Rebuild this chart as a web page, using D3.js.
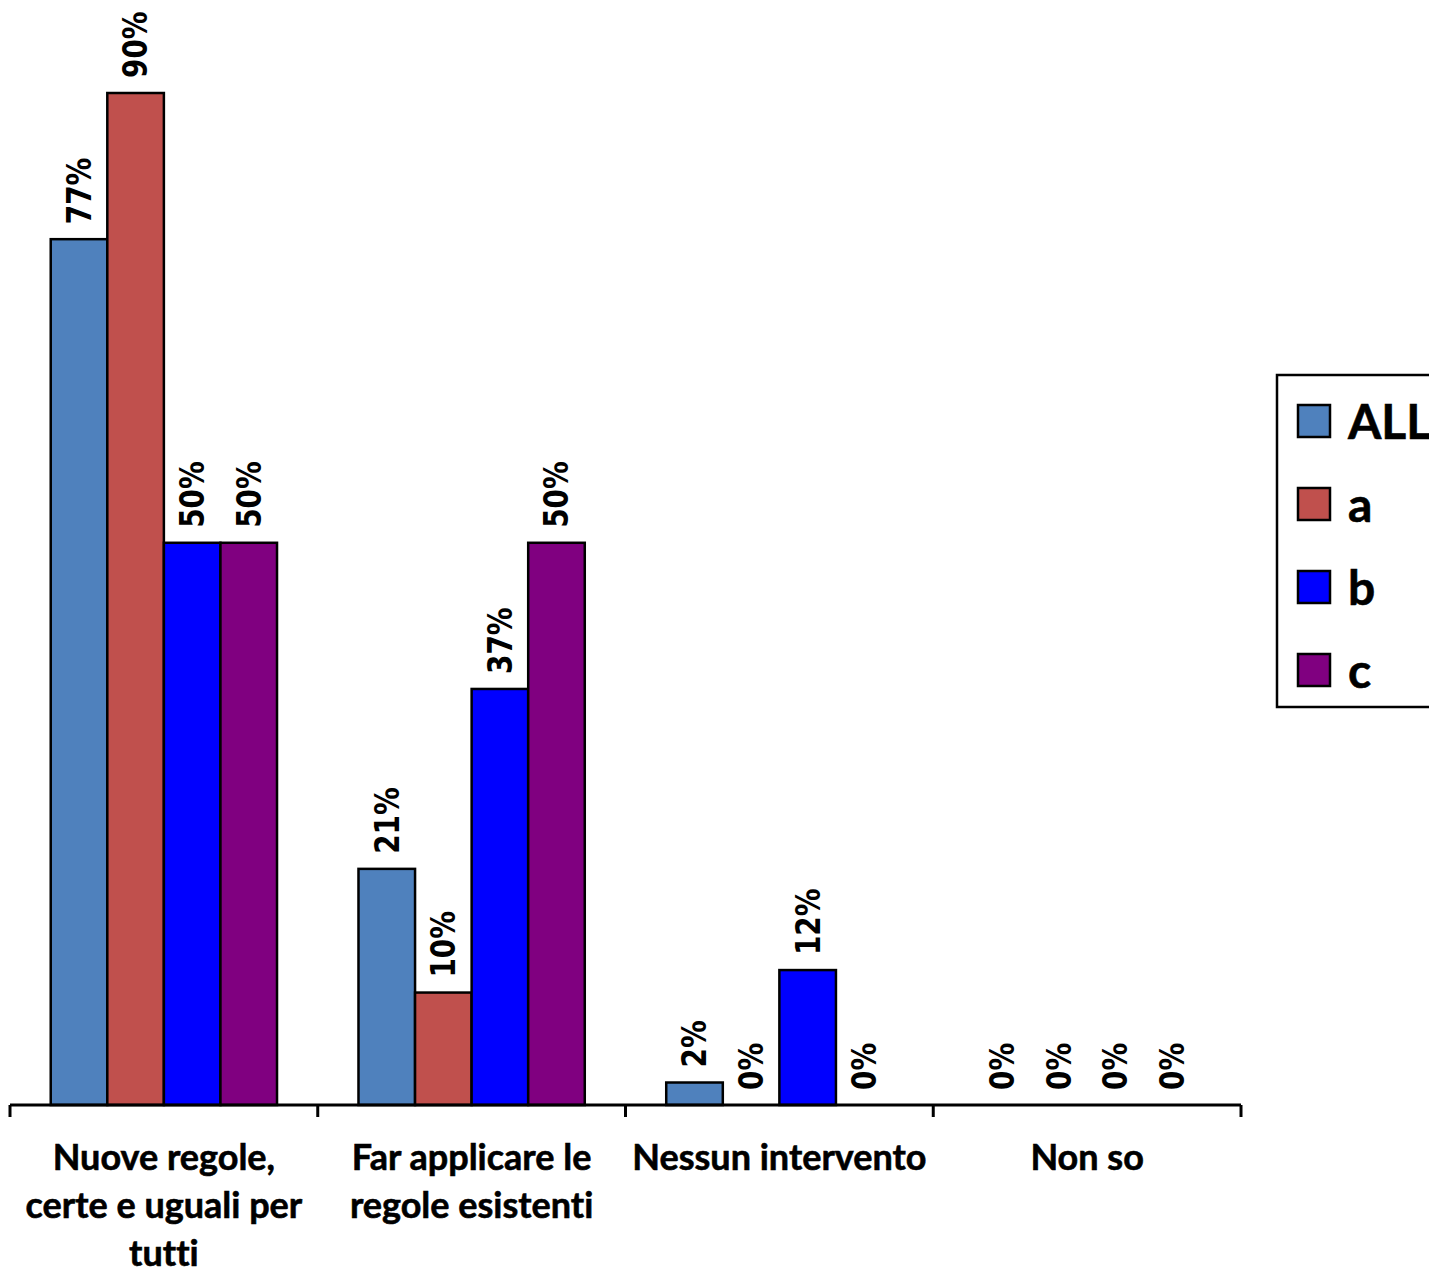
<!DOCTYPE html>
<html>
<head>
<meta charset="utf-8">
<script src="https://cdn.jsdelivr.net/npm/d3@7"></script>
<style>
  body { margin: 0; background: #fff; }
  svg { display: block; }
  .cat-label { font-family: Lato, "Open Sans", sans-serif; font-weight: bold; font-size: 36px; fill: #000; font-variant-ligatures: none; stroke: #000; stroke-width: 0.6px; }
  .bar-value { font-family: "DejaVu Sans", Verdana, sans-serif; font-weight: bold; font-size: 34px; fill: #000; }
  .legend-text { font-family: Lato, "Open Sans", sans-serif; font-weight: bold; font-size: 48px; fill: #000; stroke: #000; stroke-width: 0.6px; }
</style>
</head>
<body>
<script>
////////////////////////// DATA //////////////////////////

const categories = [
  ['Nuove regole,', 'certe e uguali per', 'tutti'],
  ['Far applicare le', 'regole esistenti'],
  ['Nessun intervento'],
  ['Non so']
]
const seriesNames = ['ALL', 'a', 'b', 'c']
const seriesColors = ['#4F81BD', '#C0504D', '#0000FF', '#800080']

const valuesAll = [77, 21, 2, 0]
const valuesA = [90, 10, 0, 0]
const valuesB = [50, 37, 12, 0]
const valuesC = [50, 50, 0, 0]

const seriesValues = [valuesAll, valuesA, valuesB, valuesC]

////////////////////////// SETUP //////////////////////////

const width = 1429
const height = 1271
const plotLeft = 10
const plotRight = 1241
const baseline = 1105

const svg = d3.select('body').append('svg')
  .attr('width', width)
  .attr('height', height)

const catIdx = categories.map((d, i) => i)

const xScale = d3.scaleBand()
  .domain(catIdx)
  .range([plotLeft, plotRight])
  .padding(0)

const xInner = d3.scaleBand()
  .domain(seriesNames)
  .range([0, xScale.bandwidth()])
  .paddingInner(0)
  .paddingOuter(0.72)

const yScale = d3.scaleLinear()
  .domain([0, 90])
  .range([baseline, 93])

// flatten for drawing
const barData = []
catIdx.forEach((c) => {
  seriesNames.forEach((s, si) => {
    barData.push({ cat: c, series: s, color: seriesColors[si], value: seriesValues[si][c] })
  })
})

////////////////////////// BARS //////////////////////////

svg.append('g')
  .selectAll('rect')
  .data(barData.filter((d) => d.value > 0))
  .enter()
  .append('rect')
  .attr('x', (d) => xScale(d.cat) + xInner(d.series))
  .attr('y', (d) => yScale(d.value))
  .attr('width', xInner.bandwidth())
  .attr('height', (d) => baseline - yScale(d.value))
  .style('fill', (d) => d.color)
  .style('stroke', '#000')
  .style('stroke-width', 2.5)

// values on bars (rotated)
svg.append('g')
  .selectAll('text')
  .data(barData)
  .enter()
  .append('text')
  .attr('class', 'bar-value')
  .attr('transform', (d) => {
    const cx = xScale(d.cat) + xInner(d.series) + xInner.bandwidth() / 2
    return `translate(${cx},${yScale(d.value) - 15}) rotate(-90) scale(0.82,1)`
  })
  .attr('dy', '0.35em')
  .text((d) => `${d.value}%`)

////////////////////////// AXIS //////////////////////////

const xAxis = d3.axisBottom(xScale)
  .tickValues([])
  .tickSizeOuter(0)

const axisG = svg.append('g')
  .attr('transform', `translate(0,${baseline})`)
  .call(xAxis)
axisG.select('.domain')
  .attr('d', `M${plotLeft},0H${plotRight}`)
  .style('stroke', '#000')
  .style('stroke-width', 3)

// tick marks at group boundaries
const boundaries = catIdx.map((c) => xScale(c)).concat([plotRight])
axisG.selectAll('.bound-tick')
  .data(boundaries)
  .enter()
  .append('line')
  .attr('class', 'bound-tick')
  .attr('x1', (d) => d)
  .attr('x2', (d) => d)
  .attr('y1', 0)
  .attr('y2', 12)
  .style('stroke', '#000')
  .style('stroke-width', 3)

// category labels
const catLabels = svg.append('g')
  .selectAll('text')
  .data(catIdx)
  .enter()
  .append('text')
  .attr('class', 'cat-label')
  .attr('text-anchor', 'middle')
  .attr('transform', (c) => `translate(${xScale(c) + xScale.bandwidth() / 2},1170)`)

catLabels.selectAll('tspan')
  .data((c) => categories[c])
  .enter()
  .append('tspan')
  .attr('x', 0)
  .attr('y', (d, i) => i * 48)
  .text((d) => d)

////////////////////////// LEGEND //////////////////////////

const legend = svg.append('g')
legend.append('rect')
  .attr('x', 1277)
  .attr('y', 375)
  .attr('width', 170)
  .attr('height', 332)
  .style('fill', '#fff')
  .style('stroke', '#000')
  .style('stroke-width', 2.5)

const legendItems = legend.selectAll('.legend-item')
  .data(seriesNames)
  .enter()
  .append('g')
  .attr('class', 'legend-item')
  .attr('transform', (d, i) => `translate(1298,${421 + i * 83})`)

legendItems.append('rect')
  .attr('x', 0)
  .attr('y', -16)
  .attr('width', 32)
  .attr('height', 32)
  .style('fill', (d, i) => seriesColors[i])
  .style('stroke', '#000')
  .style('stroke-width', 2.5)

legendItems.append('text')
  .attr('class', 'legend-text')
  .attr('x', 50)
  .attr('y', 18)
  .text((d) => d)
</script>
</body>
</html>
